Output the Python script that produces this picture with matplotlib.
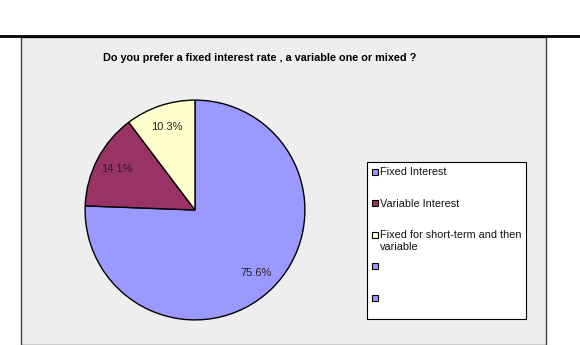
import matplotlib.pyplot as plt
from matplotlib.patches import Rectangle
from matplotlib.lines import Line2D

plt.rcParams['font.family'] = ['Liberation Sans', 'DejaVu Sans']

labels = ['Fixed Interest', 'Variable Interest', 'Fixed for short-term and then\nvariable', '', '']
values = [75.6, 14.1, 10.3]
colors = ['#9999FF', '#993366', '#FFFFCC']
legend_colors = ['#9999FF', '#993366', '#FFFFCC', '#9999FF', '#9999FF']

W, H = 580, 345
fig = plt.figure(figsize=(W / 100, H / 100), dpi=100)


def fx(px):
    return px / W


def fy(py):
    # pixel row (from top) -> figure fraction
    return 1 - py / H


# gray chart area with a black rule above it
fig.patches.append(Rectangle((fx(21), 0), fx(525), fy(37), transform=fig.transFigure,
                             facecolor='#EEEEEE', edgecolor='#444444', linewidth=1, zorder=-5))
fig.lines.append(Line2D([0, 1], [fy(35.5), fy(35.5)], transform=fig.transFigure,
                        color='black', linewidth=2))

fig.text(fx(260), fy(58), 'Do you prefer a fixed interest rate , a variable one or mixed ?',
         ha='center', va='center', fontsize=7.8, fontweight='bold')

# pie
ax = fig.add_axes([fx(84), fy(321), fx(222), 222 / H], zorder=2)
wedges, texts, autotexts = ax.pie(values, colors=colors, startangle=90, counterclock=False,
                                  autopct='%1.1f%%', pctdistance=0.8,
                                  wedgeprops=dict(edgecolor='black', linewidth=1),
                                  textprops=dict(fontsize=8, color='#222222'))
ax.set_xlim(-1.01, 1.01)
ax.set_ylim(-1.01, 1.01)
ax.axis('off')

# legend box drawn by hand
fig.patches.append(Rectangle((fx(367), fy(319)), fx(159), (319 - 162) / H,
                             transform=fig.transFigure, facecolor='white',
                             edgecolor='black', linewidth=0.8, zorder=3))
for i, (lab, c) in enumerate(zip(labels, legend_colors)):
    y = 171.5 + i * 31.5
    fig.patches.append(Rectangle((fx(372), fy(y + 3)), fx(6), 6 / H, transform=fig.transFigure,
                                 facecolor=c, edgecolor='black', linewidth=0.8, zorder=4))
    fig.text(fx(380), fy(y - 4.5), lab, ha='left', va='top', fontsize=7.8,
             linespacing=1.2, color='#111111', zorder=5)

fig.savefig('out.png', dpi=100)
